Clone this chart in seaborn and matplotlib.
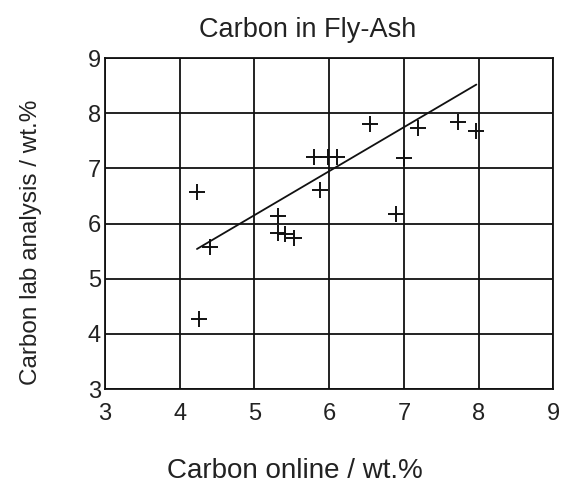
import numpy as np
import pandas as pd
import matplotlib
matplotlib.use('Agg')
import matplotlib.pyplot as plt
import seaborn as sns

# 数据：在线碳含量 vs 实验室分析碳含量
carbon_online = [4.23, 4.41, 4.26, 5.31, 5.32, 5.41, 5.53, 5.80, 5.98, 6.10,
                 5.88, 6.55, 6.89, 7.00, 7.19, 7.72, 7.97]
carbon_lab = [6.57, 5.57, 4.27, 6.14, 5.83, 5.82, 5.74, 7.21, 7.21, 7.21,
              6.61, 7.81, 6.17, 7.19, 7.73, 7.85, 7.68]
# 拟合线端点
fit_x = [4.23, 7.97]
fit_y = [5.54, 8.52]

df = pd.DataFrame({'online': carbon_online, 'lab': carbon_lab})
fit = pd.DataFrame({'x': fit_x, 'y': fit_y})

sns.set_style('white')
plt.rcParams['font.family'] = ['Liberation Sans', 'DejaVu Sans']
txt = '#222222'

fig = plt.figure(figsize=(5.71, 4.84), dpi=100)
ax = fig.add_axes([0.184, 0.196, 0.785, 0.684])

sns.scatterplot(x='online', y='lab', data=df, marker='+', s=130, color='#111111',
                linewidth=1.4, ax=ax, zorder=3)
sns.lineplot(x='x', y='y', data=fit, color='#111111', linewidth=1.3, ax=ax, zorder=3)

ax.set_xlim(3, 9)
ax.set_ylim(3, 9)
ax.set_xticks(range(3, 10))
ax.set_yticks(range(3, 10))
ax.grid(True, color='#111111', linewidth=1.3)
for s in ax.spines.values():
    s.set_color('#111111')
    s.set_linewidth(1.3)
ax.tick_params(length=0, labelsize=17, labelcolor=txt)
ax.tick_params(axis='x', pad=10)
ax.tick_params(axis='y', pad=3)

# 标题和轴标签（原图略偏左/偏下）
ax.set_title('Carbon in Fly-Ash', fontsize=19.5, pad=15, color=txt, x=0.451)
ax.set_xlabel('Carbon online / wt.%', fontsize=20, color=txt)
ax.set_ylabel('Carbon lab analysis / wt.%', fontsize=17.5, color=txt)
ax.xaxis.set_label_coords(0.424, -0.208)
ax.yaxis.set_label_coords(-0.14, 0.444)

plt.savefig('out.png', dpi=100)
